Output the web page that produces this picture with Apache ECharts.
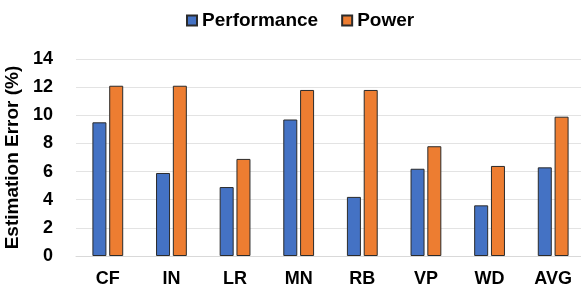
<!DOCTYPE html>
<html><head><meta charset="utf-8">
<script src="https://cdn.jsdelivr.net/npm/echarts@6/dist/echarts.min.js"></script>
<style>html,body{margin:0;padding:0;background:#fff}#c{width:581px;height:293px}</style>
</head><body><div id="c"></div>
<script>
const categories = ['CF','IN','LR','MN','RB','VP','WD','AVG'];
const performance = [9.5, 5.9, 4.9, 9.7, 4.2, 6.2, 3.6, 6.3];
const power = [12.1, 12.1, 6.9, 11.8, 11.8, 7.8, 6.4, 9.9];
const yTicks = [0, 2, 4, 6, 8, 10, 12, 14];

const font = 'Liberation Sans, Arial, sans-serif';
const chart = echarts.init(document.getElementById('c'), null, {renderer: 'canvas'});
chart.setOption({
  animation: false,
  legend: {
    top: 6, left: 181, itemWidth: 10, itemHeight: 10, itemGap: 23,
    icon: 'rect',
    textStyle: {fontFamily: font, fontWeight: 'bold', fontSize: 19, color: '#000'},
    data: ['Performance', 'Power']
  },
  grid: {left: 76, right: -4, top: 59, bottom: 37, outerBoundsMode: 'none', containLabel: false},
  xAxis: {
    type: 'category', data: categories,
    axisLine: {lineStyle: {color: '#d9d9d9', width: 1}},
    axisTick: {show: false},
    axisLabel: {fontFamily: font, fontWeight: 'bold', fontSize: 18, color: '#000', margin: 14}
  },
  yAxis: {
    type: 'value', min: yTicks[0], max: yTicks[yTicks.length-1], interval: 2,
    name: 'Estimation Error (%)', nameLocation: 'middle', nameGap: 52,
    nameTextStyle: {fontFamily: font, fontWeight: 'bold', fontSize: 19, color: '#000'},
    splitLine: {lineStyle: {color: '#e3e3e3', width: 1}},
    axisLine: {show: false}, axisTick: {show: false},
    axisLabel: {fontFamily: font, fontWeight: 'bold', fontSize: 18, color: '#000', margin: 23}
  },
  series: [
    {name: 'Performance', type: 'bar', data: performance, barWidth: 14, barGap: '20%',
     itemStyle: {color: '#4472C4', borderColor: '#2b2b2b', borderWidth: 1}},
    {name: 'Power', type: 'bar', data: power, barWidth: 14,
     itemStyle: {color: '#ED7D31', borderColor: '#2b2b2b', borderWidth: 1}}
  ]
});
</script></body></html>
